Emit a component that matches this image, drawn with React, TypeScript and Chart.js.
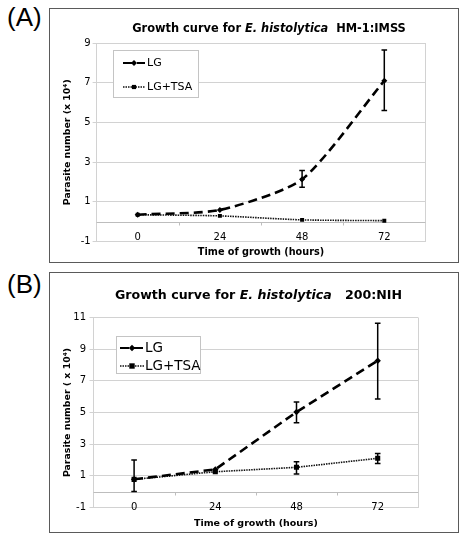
import React, { useEffect, useRef } from 'react';
import { Chart, registerables } from 'chart.js';

Chart.register(...registerables);

// ---------- data ----------
const hours = ['0', '24', '48', '72'];

// Panel A: HM-1:IMSS
const aLG = [0.35, 0.59, 2.13, 7.1];
const aLGErrPlus = [0, 0, 0.45, 1.55];
const aLGErrMinus = [0, 0, 0.4, 1.5];
const aTSA = [0.35, 0.29, 0.09, 0.05];
const aTSAErrPlus = [0, 0, 0, 0];
const aTSAErrMinus = [0, 0, 0, 0];
const aYMin = -1;
const aYMax = 9;

// Panel B: 200:NIH
const bLG = [0.77, 1.4, 5.03, 8.28];
const bLGErrPlus = [1.23, 0, 0.63, 2.37];
const bLGErrMinus = [0.77, 0, 0.68, 2.43];
const bTSA = [0.77, 1.25, 1.53, 2.1];
const bTSAErrPlus = [0, 0, 0.36, 0.3];
const bTSAErrMinus = [0, 0, 0.43, 0.32];
const bYMin = -1;
const bYMax = 11;

const yStep = 2;
const seriesNames = ['LG', 'LG+TSA'];
const xTitle = 'Time of growth (hours)';

const FONT = "'DejaVu Sans', Verdana, sans-serif";
const GRID = '#d2d2d2';

const decorPlugin = {
  id: 'decor',
  beforeDatasetsDraw(chart: any, _args: any, opts: any) {
    const { ctx, chartArea } = chart;
    const x = chart.scales.x;
    const y = chart.scales.y;
    ctx.save();
    ctx.strokeStyle = GRID;
    ctx.lineWidth = 1;
    // right border of plot
    ctx.beginPath();
    ctx.moveTo(Math.round(chartArea.right) + 0.5, chartArea.top);
    ctx.lineTo(Math.round(chartArea.right) + 0.5, chartArea.bottom);
    ctx.stroke();
    // zero axis line
    const y0 = Math.round(y.getPixelForValue(0)) + 0.5;
    ctx.strokeStyle = '#bdbdbd';
    ctx.beginPath();
    ctx.moveTo(chartArea.left, y0);
    ctx.lineTo(chartArea.right, y0);
    ctx.stroke();
    // category tick marks on the zero axis
    const n = chart.data.labels.length;
    for (let i = 0; i < n - 1; i++) {
      const px = Math.round((x.getPixelForValue(i) + x.getPixelForValue(i + 1)) / 2) + 0.5;
      ctx.beginPath();
      ctx.moveTo(px, y0);
      ctx.lineTo(px, y0 + 3);
      ctx.stroke();
    }
    ctx.restore();
  },
  afterDatasetsDraw(chart: any, _args: any, opts: any) {
    const { ctx } = chart;
    const x = chart.scales.x;
    const y = chart.scales.y;
    ctx.save();
    ctx.strokeStyle = '#000';
    ctx.lineWidth = 1.5;
    chart.data.datasets.forEach((ds: any) => {
      ds.data.forEach((v: number, i: number) => {
        const up = ds.errPlus[i];
        const dn = ds.errMinus[i];
        if (!up && !dn) return;
        const px = x.getPixelForValue(i);
        const yt = y.getPixelForValue(v + up);
        const yb = y.getPixelForValue(v - dn);
        const cap = opts.cap;
        ctx.beginPath();
        ctx.moveTo(px, yt);
        ctx.lineTo(px, yb);
        ctx.moveTo(px - cap, yt);
        ctx.lineTo(px + cap, yt);
        ctx.moveTo(px - cap, yb);
        ctx.lineTo(px + cap, yb);
        ctx.stroke();
      });
    });
    ctx.restore();
  },
  afterDraw(chart: any, _args: any, opts: any) {
    const { ctx } = chart;
    const lg = opts.legend;
    ctx.save();
    ctx.fillStyle = '#fff';
    ctx.fillRect(lg.x, lg.y, lg.w, lg.h);
    ctx.strokeStyle = '#c4c4c4';
    ctx.lineWidth = 1;
    ctx.strokeRect(Math.round(lg.x) + 0.5, Math.round(lg.y) + 0.5, lg.w, lg.h);
    chart.data.datasets.forEach((ds: any, i: number) => {
      const cy = lg.rowY[i];
      ctx.save();
      ctx.strokeStyle = ds.borderColor;
      ctx.lineWidth = ds.legendLineWidth;
      ctx.setLineDash(ds.borderDash || []);
      ctx.beginPath();
      ctx.moveTo(lg.sx0, cy);
      ctx.lineTo(lg.sx1, cy);
      ctx.stroke();
      ctx.restore();
      const mx = (lg.sx0 + lg.sx1) / 2;
      const r = ds.pointRadius;
      ctx.fillStyle = '#000';
      ctx.beginPath();
      if (ds.pointStyle === 'rectRot') {
        ctx.moveTo(mx, cy - r);
        ctx.lineTo(mx + r, cy);
        ctx.lineTo(mx, cy + r);
        ctx.lineTo(mx - r, cy);
        ctx.closePath();
      } else {
        ctx.rect(mx - r * 0.75, cy - r * 0.75, r * 1.5, r * 1.5);
      }
      ctx.fill();
      ctx.fillStyle = '#000';
      ctx.font = `${lg.fontSize}px ${FONT}`;
      ctx.textBaseline = 'middle';
      ctx.textAlign = 'left';
      ctx.fillText(ds.label, lg.tx, cy + 0.5);
    });
    ctx.restore();
  },
};

type PanelProps = {
  lg: number[];
  lgPlus: number[];
  lgMinus: number[];
  tsa: number[];
  tsaPlus: number[];
  tsaMinus: number[];
  yMin: number;
  yMax: number;
  yTitle: string;
  tension: number;
  lgRadius: number;
  tsaRadius: number;
  layout: any;
  legend: any;
  width: number;
  height: number;
};

function Panel(p: PanelProps) {
  const ref = useRef<HTMLCanvasElement>(null);
  useEffect(() => {
    if (!ref.current) return;
    const L = p.layout;
    const chart = new Chart(ref.current, {
      type: 'line',
      data: {
        labels: hours,
        datasets: [
          {
            label: seriesNames[0],
            data: p.lg,
            errPlus: p.lgPlus,
            errMinus: p.lgMinus,
            borderColor: '#000',
            backgroundColor: '#000',
            borderWidth: 2.6,
            legendLineWidth: 2.2,
            borderDash: [9, 5],
            pointStyle: 'rectRot',
            pointRadius: p.lgRadius,
            pointBorderWidth: 0,
            tension: p.tension,
          } as any,
          {
            label: seriesNames[1],
            data: p.tsa,
            errPlus: p.tsaPlus,
            errMinus: p.tsaMinus,
            borderColor: '#111',
            backgroundColor: '#000',
            borderWidth: 1.6,
            legendLineWidth: 1.4,
            borderDash: [1.5, 1],
            pointStyle: 'rect',
            pointRadius: p.tsaRadius,
            pointBorderWidth: 0,
            tension: p.tension,
          } as any,
        ],
      },
      options: {
        animation: false,
        responsive: false,
        maintainAspectRatio: false,
        layout: { padding: { left: 0, right: L.padRight, top: L.padTop, bottom: 0 } },
        plugins: {
          legend: { display: false },
          title: { display: false },
          tooltip: { enabled: false },
          decor: { legend: p.legend, cap: 2.8 },
        } as any,
        scales: {
          x: {
            type: 'category',
            offset: true,
            grid: { display: false, drawTicks: false },
            border: { display: true, color: GRID },
            ticks: {
              color: '#000',
              font: { family: FONT, size: 10 },
              padding: L.xTickPad,
              maxRotation: 0,
              mirror: true,
            },
            title: {
              display: true,
              text: xTitle,
              color: '#000',
              font: { family: FONT, size: L.xTitleSize, weight: 'bold' },
              padding: { top: 0, bottom: L.xTitlePad },
            },
            afterFit: (s: any) => {
              s.height = L.xAxisH;
            },
          },
          y: {
            min: p.yMin,
            max: p.yMax,
            grid: { color: GRID, drawTicks: true, tickLength: 4 },
            border: { display: true, color: GRID },
            ticks: {
              stepSize: yStep,
              color: '#000',
              font: { family: FONT, size: 10 },
              padding: L.yTickPad,
            },
            title: {
              display: true,
              text: p.yTitle,
              color: '#000',
              font: { family: FONT, size: 9.4, weight: 'bold' },
              padding: { top: L.yTitlePad, bottom: 0 },
            },
            afterFit: (s: any) => {
              s.width = L.yAxisW;
            },
          },
        },
      },
      plugins: [decorPlugin as any],
    });
    return () => chart.destroy();
  }, []);
  return <canvas ref={ref} width={p.width} height={p.height} style={{ display: 'block', width: p.width, height: p.height }} />;
}

const frameStyle = (top: number, height: number): React.CSSProperties => ({
  position: 'absolute',
  left: 49,
  top,
  width: 410,
  height,
  border: '1px solid #5a5a5a',
  boxSizing: 'border-box',
  background: '#fff',
});

const labelStyle = (top: number): React.CSSProperties => ({
  position: 'absolute',
  left: 7,
  top,
  fontFamily: "'Liberation Sans', Arial, sans-serif",
  fontSize: 26,
  lineHeight: 'normal',
  color: '#000',
});

const titleStyle = (cx: number, cy: number, size: number): React.CSSProperties => ({
  position: 'absolute',
  left: cx,
  top: cy,
  transform: 'translate(-50%, -50%)',
  fontFamily: FONT,
  fontWeight: 'bold',
  fontSize: size,
  whiteSpace: 'pre',
  color: '#000',
  lineHeight: 1,
});

export default function App() {
  return (
    <div style={{ position: 'absolute', left: 0, top: 0, width: 471, height: 538, background: '#fff' }}>
      <div style={labelStyle(2)}>(A)</div>
      <div style={frameStyle(8, 255)}>
        <Panel
          lg={aLG}
          lgPlus={aLGErrPlus}
          lgMinus={aLGErrMinus}
          tsa={aTSA}
          tsaPlus={aTSAErrPlus}
          tsaMinus={aTSAErrMinus}
          yMin={aYMin}
          yMax={aYMax}
          yTitle={'Parasite number (x 10\u2074)'}
          tension={0.22}
          lgRadius={3}
          tsaRadius={2.8}
          width={408}
          height={253}
          layout={{ padRight: 32.6, padTop: 34, xTickPad: -1.5, xTitlePad: 3.8, xTitleSize: 9.7, xAxisH: 20.5, yTickPad: 2, yTitlePad: 12.3, yAxisW: 46.6 }}
          legend={{ x: 63, y: 41, w: 85, h: 47, rowY: [54, 78], sx0: 73, sx1: 95, tx: 97, fontSize: 11 }}
        />
      </div>
      <div style={titleStyle(269, 29, 11.4)}>
        Growth curve for <i>E. histolytica</i>{'  '}HM-1:IMSS
      </div>

      <div style={labelStyle(269)}>(B)</div>
      <div style={frameStyle(272, 261)}>
        <Panel
          lg={bLG}
          lgPlus={bLGErrPlus}
          lgMinus={bLGErrMinus}
          tsa={bTSA}
          tsaPlus={bTSAErrPlus}
          tsaMinus={bTSAErrMinus}
          yMin={bYMin}
          yMax={bYMax}
          yTitle={'Parasite number ( x 10\u2074)'}
          tension={0}
          lgRadius={3.2}
          tsaRadius={3.6}
          width={408}
          height={259}
          layout={{ padRight: 39.7, padTop: 44.7, xTickPad: -6.5, xTitlePad: 3, xTitleSize: 9.5, xAxisH: 24.7, yTickPad: 3.5, yTitlePad: 12.3, yAxisW: 43.5 }}
          legend={{ x: 66, y: 63, w: 84, h: 37, rowY: [75, 93], sx0: 70, sx1: 94, tx: 95, fontSize: 13.5 }}
        />
      </div>
      <div style={titleStyle(258.5, 295, 12.6)}>
        Growth curve for <i>E. histolytica</i>{'   '}200:NIH
      </div>
    </div>
  );
}
